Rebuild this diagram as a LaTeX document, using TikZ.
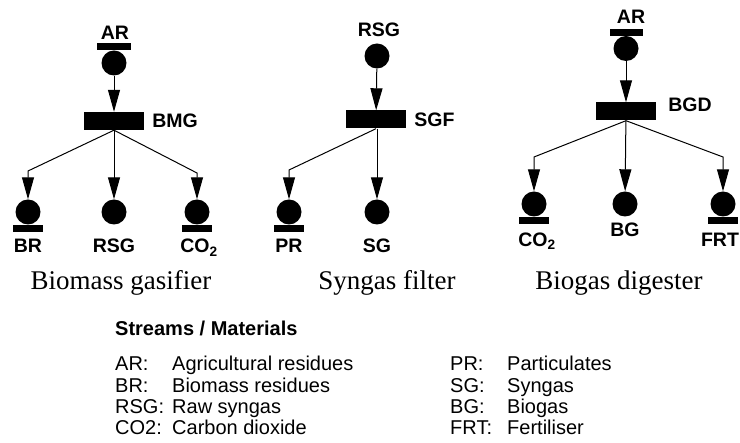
\documentclass[tikz,border=0pt]{standalone}
\usepackage{fontspec}
\setmainfont{Liberation Serif}
\setsansfont{Liberation Sans}
\usetikzlibrary{arrows.meta,positioning}

\begin{document}
\begin{tikzpicture}[x=1pt,y=-1pt,
    place/.style={circle,fill=black,inner sep=0pt,minimum size=25pt},
    trans/.style={rectangle,fill=black,inner sep=0pt,minimum width=60pt,minimum height=18pt},
    endbar/.style={rectangle,fill=black,inner sep=0pt,minimum width=30pt,minimum height=7pt},
    lbl/.style={inner sep=0pt,anchor=base,font=\sffamily\bfseries\fontsize{19.5}{21}\selectfont},
    capt/.style={inner sep=0pt,anchor=base,font=\rmfamily\fontsize{27}{29}\selectfont},
    leg/.style={inner sep=0pt,anchor=base west,font=\sffamily\fontsize{20}{22}\selectfont},
    flow/.style={line width=1pt,-{Triangle[length=22pt,width=12pt]}}]
\useasboundingbox (0,0) rectangle (740,443);

% biomass gasifier
\node[place] (ar1) at (114,63) {};
\node[endbar,minimum width=34pt,above=0pt of ar1] (ar1bar) {};
\node[lbl] (ar1lbl) at (115,40) {AR};
\node[trans] (bmg) at (114,121) {};
\node[lbl,right=8pt of bmg] (bmglbl) {BMG};
\node[place] (br) at (28,212) {};
\node[endbar,below=0pt of br] (brbar) {};
\node[place] (rsg1) at (114,212) {};
\node[place] (co2a) at (197,212) {};
\node[endbar,below=0pt of co2a] (co2abar) {};
\node[lbl] (brlbl) at (28,253) {BR};
\node[lbl] (rsg1lbl) at (114,253) {RSG};
\node[lbl] (co2albl) at (199,253) {CO\textsubscript{2}};
\coordinate (bmgL) at (28,171);
\coordinate (bmgR) at (197,173);
\draw[flow] (ar1) -- (bmg);
\draw[flow] (bmg.south) -- (bmgL) -- (br);
\draw[flow] (bmg) -- (rsg1);
\draw[flow] (bmg.south) -- (bmgR) -- (co2a);
\node[capt] (cap1) at (121,290) {Biomass gasifier};

% syngas filter
\node[place] (rsg2) at (377,56) {};
\node[lbl] (rsg2lbl) at (379,36.6) {RSG};
\node[trans] (sgf) at (376,119.5) {};
\node[lbl,right=8pt of sgf] (sgflbl) {SGF};
\node[place] (pr) at (289,212) {};
\node[endbar,below=0pt of pr] (prbar) {};
\node[place] (sg) at (377,212) {};
\node[lbl] (prlbl) at (289,253) {PR};
\node[lbl] (sglbl) at (377,253) {SG};
\coordinate (sgfL) at (289,170);
\draw[flow] (rsg2) -- (sgf);
\draw[flow] (sgf.south) -- (sgfL) -- (pr);
\draw[flow] (sgf.south -| sg) -- (sg);
\node[capt] (cap2) at (387,290) {Syngas filter};

% biogas digester
\node[place] (ar3) at (626,48.5) {};
\node[endbar,minimum width=33pt,above=0pt of ar3] (ar3bar) {};
\node[lbl] (ar3lbl) at (631,23.6) {AR};
\node[trans] (bgd) at (626,111.5) {};
\node[lbl,right=12pt of bgd,yshift=7pt] (bgdlbl) {BGD};
\node[place] (co2b) at (534,204) {};
\node[endbar,below=0pt of co2b] (co2bbar) {};
\node[place] (bg) at (625,204) {};
\node[place] (frt) at (723,204) {};
\node[endbar,below=0pt of frt] (frtbar) {};
\node[lbl] (co2blbl) at (537,246.6) {CO\textsubscript{2}};
\node[lbl] (bglbl) at (625,236.6) {BG};
\node[lbl] (frtlbl) at (720,246.6) {FRT};
\coordinate (bgdL) at (534,157);
\coordinate (bgdR) at (723,157);
\draw[flow] (ar3) -- (bgd);
\draw[flow] (bgd.south) -- (bgdL) -- (co2b);
\draw[flow] (bgd) -- (bg);
\draw[flow] (bgd.south) -- (bgdR) -- (frt);
\node[capt] (cap3) at (619,290) {Biogas digester};

% legend
\node[leg,font=\sffamily\bfseries\fontsize{20}{22}\selectfont] (leghead) at (115,336) {Streams / Materials};
\node[leg] (k1) at (115,371) {AR:};   \node[leg] (d1) at (172,371) {Agricultural residues};
\node[leg] (k2) at (115,392.3) {BR:}; \node[leg] (d2) at (172,392.3) {Biomass residues};
\node[leg] (k3) at (115,413.6) {RSG:};\node[leg] (d3) at (172,413.6) {Raw syngas};
\node[leg] (k4) at (115,435) {CO2:};  \node[leg] (d4) at (172,435) {Carbon dioxide};
\node[leg] (k5) at (450,371) {PR:};   \node[leg] (d5) at (507,371) {Particulates};
\node[leg] (k6) at (450,392.3) {SG:}; \node[leg] (d6) at (507,392.3) {Syngas};
\node[leg] (k7) at (450,413.6) {BG:}; \node[leg] (d7) at (507,413.6) {Biogas};
\node[leg] (k8) at (450,435) {FRT:};  \node[leg] (d8) at (507,435) {Fertiliser};
\end{tikzpicture}
\end{document}
